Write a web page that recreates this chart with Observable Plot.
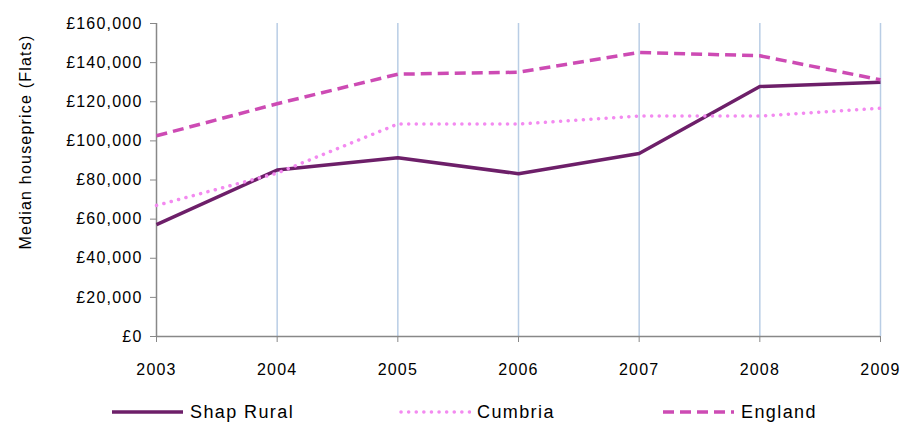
<!DOCTYPE html>
<html>
<head>
<meta charset="utf-8">
<script src="https://cdn.jsdelivr.net/npm/d3@7"></script>
<script src="https://cdn.jsdelivr.net/npm/@observablehq/plot@0.6"></script>
<style>
  html, body { margin: 0; padding: 0; background: #fff; }
  body { width: 917px; height: 428px; overflow: hidden; font-family: "Liberation Sans", Arial, sans-serif; position: relative; }
  #legend { position: absolute; left: 0; top: 396px; width: 917px; height: 32px; }
  .item { position: absolute; top: 0; display: flex; align-items: center; height: 32px; font-size: 18px; letter-spacing: 1.4px; color: #000; }
  .item svg { margin-right: 6px; }
  #chart svg text { letter-spacing: 1.2px; }
</style>
</head>
<body>
<div id="chart"></div>
<div id="legend"></div>
<script>
const years = [2003, 2004, 2005, 2006, 2007, 2008, 2009];
const shapRural = [57200, 85100, 91400, 83200, 93500, 127800, 130000];
const cumbria = [67000, 83500, 108600, 108600, 112700, 112700, 116700];
const england = [102600, 119000, 134100, 135100, 145200, 143500, 131200];
const yTicks = [0, 20000, 40000, 60000, 80000, 100000, 120000, 140000, 160000];
const seriesNames = ["Shap Rural", "Cumbria", "England"];
const seriesValues = [shapRural, cumbria, england];

const styles = {
  "Shap Rural": {stroke: "#6d1f69", width: 3.5, dash: null, cap: "butt"},
  "Cumbria": {stroke: "#f38af0", width: 3.5, dash: "0.1 7.5", cap: "round"},
  "England": {stroke: "#cd4bb4", width: 3.5, dash: "11 6", cap: "butt"}
};

const rows = [];
seriesNames.forEach((name, i) => years.forEach((y, j) => rows.push({series: name, year: y, value: seriesValues[i][j]})));

const fmt = v => "£" + d3.format(",")(v);

const marks = [
  Plot.ruleX(years.slice(1), {stroke: "#b9cde5", strokeWidth: 1.5}),
  Plot.ruleY([0], {stroke: "#888", strokeWidth: 1.5}),
  Plot.ruleX([2003], {stroke: "#888", strokeWidth: 1.5}),
  Plot.axisY({ticks: yTicks, tickFormat: fmt, tickSize: 6, tickPadding: 8, stroke: "#888", label: null, fontSize: 16}),
  Plot.axisX({ticks: years, tickFormat: d => String(d), tickSize: 6, tickPadding: 21, stroke: "#888", label: null, fontSize: 16}),
  Plot.text(["Median houseprice (Flats)"], {frameAnchor: "left", textAnchor: "middle", dx: -131, dy: -38, rotate: -90, fontSize: 16, fill: "#000"})
];
for (const name of seriesNames) {
  const s = styles[name];
  marks.push(Plot.line(rows.filter(r => r.series === name), {
    x: "year", y: "value", stroke: s.stroke, strokeWidth: s.width,
    strokeDasharray: s.dash, strokeLinecap: s.cap, strokeLinejoin: "round"
  }));
}

const chart = Plot.plot({
  width: 917,
  height: 396,
  marginLeft: 156,
  marginRight: 37,
  marginTop: 23,
  marginBottom: 60,
  style: {fontFamily: "'Liberation Sans', Arial, sans-serif", fontSize: "16px", color: "#000", background: "#fff"},
  x: {domain: [2003, 2009]},
  y: {domain: [0, 160000]},
  marks
});
document.getElementById("chart").appendChild(chart);

// Legend
const legend = document.getElementById("legend");
const legendLeft = {"Shap Rural": 112, "Cumbria": 399, "England": 663};
for (const name of seriesNames) {
  const s = styles[name];
  const div = document.createElement("div");
  div.className = "item";
  div.style.left = legendLeft[name] + "px";
  const w = 72;
  div.innerHTML = `<svg width="${w}" height="10"><line x1="${s.cap === 'round' ? 2 : 0}" y1="5" x2="${w - 1}" y2="5" stroke="${s.stroke}" stroke-width="${s.width}" ${s.dash ? `stroke-dasharray="${s.dash}"` : ""} stroke-linecap="${s.cap}"/></svg><span>${name}</span>`;
  legend.appendChild(div);
}
</script>
</body>
</html>
